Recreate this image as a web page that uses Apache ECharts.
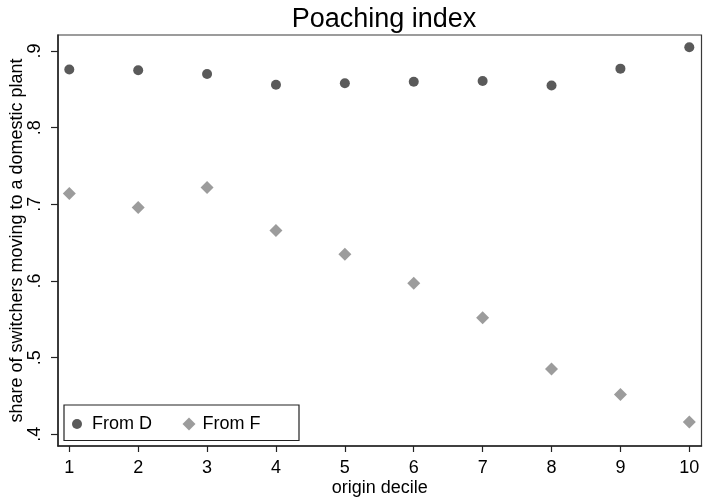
<!DOCTYPE html>
<html>
<head>
<meta charset="utf-8">
<script src="https://cdn.jsdelivr.net/npm/echarts@6/dist/echarts.min.js"></script>
<style>
  html, body { margin: 0; padding: 0; background: #fff; }
  #chart { width: 703px; height: 497px; }
</style>
</head>
<body>
<div id="chart"></div>
<script>
// Origin deciles and poaching shares
const deciles = [1, 2, 3, 4, 5, 6, 7, 8, 9, 10];
const fromD = [0.876, 0.875, 0.870, 0.856, 0.858, 0.860, 0.861, 0.855, 0.877, 0.905];
const fromF = [0.714, 0.696, 0.722, 0.666, 0.635, 0.597, 0.552, 0.485, 0.452, 0.416];
const xTicks = [1, 2, 3, 4, 5, 6, 7, 8, 9, 10];
const yTicks = [0.4, 0.5, 0.6, 0.7, 0.8, 0.9];

const FONT = 'Liberation Sans, Arial, Helvetica, sans-serif';
const colD = '#5a5a5a';
const colF = '#9c9c9c';

const pairs = (xs, ys) => xs.map((x, i) => [x, ys[i]]);

const chart = echarts.init(document.getElementById('chart'), null, { renderer: 'canvas' });
chart.setOption({
  animation: false,
  backgroundColor: '#fff',
  textStyle: { fontFamily: FONT },
  title: {
    text: 'Poaching index',
    left: 379, top: 1, textAlign: 'center',
    textStyle: { fontFamily: FONT, fontSize: 27, fontWeight: 'normal', color: '#000' }
  },
  grid: {
    left: 58, right: 1.5, top: 35, bottom: 51,
    outerBoundsMode: 'none', containLabel: false,
    show: true, borderColor: '#3a3a3a', borderWidth: 1.2, backgroundColor: '#fff'
  },
  xAxis: {
    type: 'value', min: 0.836, max: 10.177,
    name: 'origin decile', nameLocation: 'middle', nameGap: 33, nameMoveOverlap: false,
    nameTextStyle: { fontFamily: FONT, fontSize: 18, color: '#000' },
    axisLine: { show: true, lineStyle: { color: '#222', width: 1.5 } },
    axisTick: { show: true, length: 6, customValues: xTicks, lineStyle: { color: '#222', width: 1.2 } },
    axisLabel: { customValues: xTicks, margin: 13, fontFamily: FONT, fontSize: 18, color: '#000' },
    splitLine: { show: false }
  },
  yAxis: {
    type: 'value', min: 0.3847, max: 0.9209,
    name: 'share of switchers moving to a domestic plant',
    nameLocation: 'middle', nameGap: 32, nameRotate: 90, nameMoveOverlap: false,
    nameTextStyle: { fontFamily: FONT, fontSize: 18, color: '#000' },
    axisLine: { show: true, lineStyle: { color: '#222', width: 1.5 } },
    axisTick: { show: true, length: 7, customValues: yTicks, lineStyle: { color: '#222', width: 1.2 } },
    axisLabel: {
      customValues: yTicks, rotate: 90, margin: 14,
      fontFamily: FONT, fontSize: 18, color: '#000',
      formatter: v => String(+v.toFixed(1)).replace(/^0/, '')
    },
    splitLine: { show: false }
  },
  legend: [
    {
      data: [{ name: 'From D', icon: 'circle' }],
      left: 72, top: 415, padding: 0,
      itemWidth: 10, itemHeight: 10, itemGap: 0,
      textStyle: { fontFamily: FONT, fontSize: 18, color: '#000', padding: [0, 0, 0, 5] }
    },
    {
      data: [{ name: 'From F', icon: 'diamond' }],
      left: 182.5, top: 415, padding: 0,
      itemWidth: 13, itemHeight: 13, itemGap: 0,
      textStyle: { fontFamily: FONT, fontSize: 18, color: '#000', padding: [0, 0, 0, 2] }
    }
  ],
  graphic: [{
    type: 'rect', silent: true, z: 1,
    shape: { x: 64, y: 405, width: 235, height: 35.5 },
    style: { fill: '#fff', stroke: '#222', lineWidth: 1.2 }
  }],
  series: [
    {
      name: 'From D', type: 'scatter', symbol: 'circle', symbolSize: 10,
      itemStyle: { color: colD, opacity: 1 },
      data: pairs(deciles, fromD), z: 3
    },
    {
      name: 'From F', type: 'scatter', symbol: 'diamond', symbolSize: 13,
      itemStyle: { color: colF, opacity: 1 },
      data: pairs(deciles, fromF), z: 3
    }
  ]
});
</script>
</body>
</html>
